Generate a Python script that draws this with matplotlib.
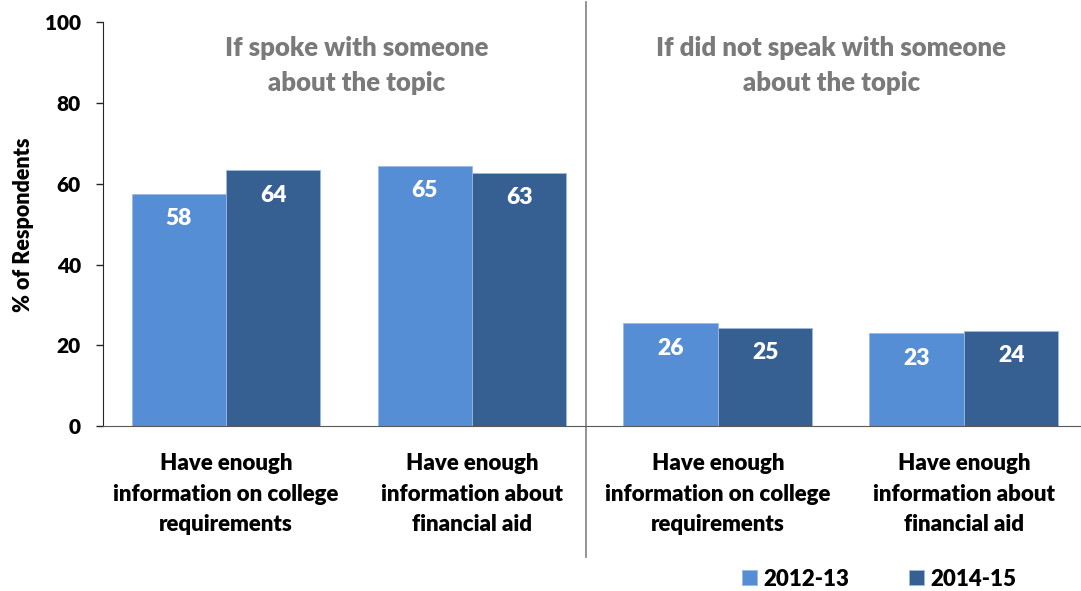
#Description: grouped bar chart of respondents who have enough information, by whether they spoke with someone

#import the libraries
import numpy as np
import matplotlib.pyplot as plt

plt.rcParams['font.family'] = ['Lato', 'DejaVu Sans']
plt.rcParams['font.weight'] = 'heavy'

#store the data
categories = ['Have enough\ninformation on college\nrequirements',
              'Have enough\ninformation about\nfinancial aid',
              'Have enough\ninformation on college\nrequirements',
              'Have enough\ninformation about\nfinancial aid']
years = ['2012-13', '2014-15']
values_1213 = [57.5, 64.5, 25.5, 23.0]
values_1415 = [63.4, 62.8, 24.4, 23.7]
labels_1213 = ['58', '65', '26', '23']
labels_1415 = ['64', '63', '25', '24']
panel_titles = ['If spoke with someone\nabout the topic', 'If did not speak with someone\nabout the topic']

light = '#558ED5'
dark = '#366092'

#Get the figure
fig = plt.figure(figsize=(10.81, 5.91), dpi=100)
ax = fig.add_axes([0.0953, 0.2787, 0.9047, 0.6836])

x = np.arange(len(categories))
w = 0.384
b1 = ax.bar(x - w / 2, values_1213, w, color=light, edgecolor='#9DB9E0', linewidth=0.6, label=years[0])
b2 = ax.bar(x + w / 2, values_1415, w, color=dark, edgecolor='#9DB9E0', linewidth=0.6, label=years[1])

#value labels inside the bars
for bars, labs in [(b1, labels_1213), (b2, labels_1415)]:
    for bar, lab in zip(bars, labs):
        ax.annotate(lab, (bar.get_x() + bar.get_width() / 2, bar.get_height()),
                    xytext=(0, -18), textcoords='offset points', ha='center', va='center',
                    color='white', fontsize=16.5, fontweight='heavy')

ax.set_xlim(-0.5, 3.476)
ax.set_ylim(0, 100)
ax.set_yticks(range(0, 101, 20))
ax.tick_params(axis='y', labelsize=15, length=5, width=1, color='#262626', pad=11)
ax.set_xticks(x)
ax.set_xticklabels(categories, fontsize=16, fontweight='heavy', linespacing=1.56)
ax.tick_params(axis='x', length=0, pad=19.5)
ax.set_ylabel('% of Respondents', fontsize=15.5, fontweight='heavy', labelpad=8)

for s in ['top', 'right']:
    ax.spines[s].set_visible(False)
ax.spines['left'].set_color('#262626')
ax.spines['bottom'].set_color('#595959')

#divider between the two panels
ax.axvline(1.463, ymin=-0.323, ymax=1.05, color='#808080', lw=1.2, clip_on=False)

#panel titles
ax.text(0.53, 89.4, panel_titles[0], ha='center', va='center', fontsize=18.5, fontweight='heavy',
        color='#7A7A7A', linespacing=1.55)
ax.text(2.46, 89.4, panel_titles[1], ha='center', va='center', fontsize=18.5, fontweight='heavy',
        color='#7A7A7A', linespacing=1.55)

ax.legend(loc='center left', bbox_to_anchor=(0.6864, 0.0203), bbox_transform=fig.transFigure,
          ncol=2, frameon=False, fontsize=16, borderpad=0, borderaxespad=0,
          handlelength=0.68, handleheight=0.68, columnspacing=2.65, handletextpad=0.3)

fig.savefig('out.png', dpi=100)
